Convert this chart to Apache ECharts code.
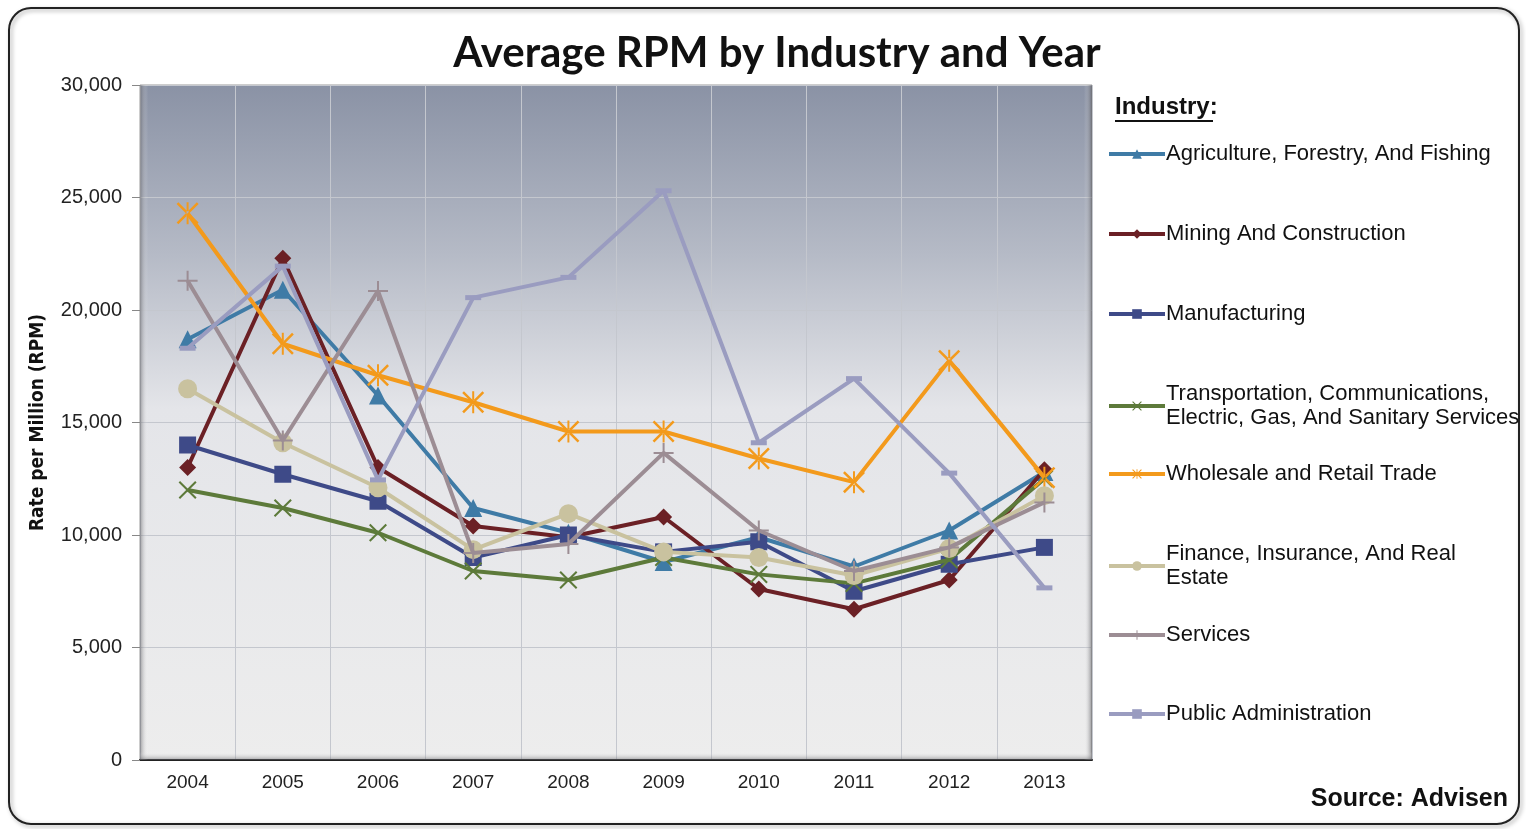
<!DOCTYPE html>
<html>
<head>
<meta charset="utf-8">
<script src="https://cdn.jsdelivr.net/npm/echarts@6/dist/echarts.min.js"></script>
<style>html,body{margin:0;padding:0;background:#fff;}#chart{width:1526px;height:829px;}</style>
</head>
<body>
<div id="chart"></div>
<script>
const years = ['2004','2005','2006','2007','2008','2009','2010','2011','2012','2013'];
const yTicks = [0, 5000, 10000, 15000, 20000, 25000, 30000];

const agriculture    = [18700, 20900, 16200, 11200, 10100, 8800, 9900, 8600, 10200, 12800];
const mining         = [13000, 22300, 13000, 10400, 9900, 10800, 7600, 6700, 8000, 12900];
const manufacturing  = [14000, 12700, 11500, 9000, 10000, 9250, 9700, 7500, 8700, 9450];
const transportation = [12000, 11200, 10100, 8400, 8000, 9000, 8250, 7850, 8900, 12500];
const wholesale      = [24300, 18500, 17100, 15900, 14600, 14600, 13400, 12350, 17750, 12550];
const finance        = [16500, 14100, 12100, 9350, 10950, 9250, 9000, 8200, 9400, 11750];
const services       = [21300, 14200, 20850, 9200, 9600, 13650, 10200, 8400, 9450, 11450];
const publicAdmin    = [18300, 21950, 12450, 20550, 21450, 25300, 14100, 16950, 12750, 7650];

const names = [
  'Agriculture, Forestry, And Fishing',
  'Mining And Construction',
  'Manufacturing',
  'Transportation, Communications,\nElectric, Gas, And Sanitary Services',
  'Wholesale and Retail Trade',
  'Finance, Insurance, And Real\nEstate',
  'Services',
  'Public Administration'
];

const X_PATH = 'path://M0.8,0 L5,4.2 L9.2,0 L10,0.8 L5.8,5 L10,9.2 L9.2,10 L5,5.8 L0.8,10 L0,9.2 L4.2,5 L0,0.8 Z';
const STAR_PATH = 'path://M0.8,0 L5,4.2 L9.2,0 L10,0.8 L5.8,5 L10,9.2 L9.2,10 L5,5.8 L0.8,10 L0,9.2 L4.2,5 L0,0.8 Z M4.55,0 L4.55,10 L5.45,10 L5.45,0 Z';
const PLUS_PATH = 'path://M4.5,0 L5.5,0 L5.5,4.5 L10,4.5 L10,5.5 L5.5,5.5 L5.5,10 L4.5,10 L4.5,5.5 L0,5.5 L0,4.5 L4.5,4.5 Z';

const seriesDefs = [
  {data: agriculture,    color: '#3f7ba6', symbol: 'triangle', size: 18},
  {data: mining,         color: '#6b2025', symbol: 'diamond',  size: 17},
  {data: manufacturing,  color: '#3e4a88', symbol: 'rect',     size: 17},
  {data: transportation, color: '#5d7a3a', symbol: X_PATH,     size: 18},
  {data: wholesale,      color: '#f39a1c', symbol: STAR_PATH,  size: 22},
  {data: finance,        color: '#c9c29f', symbol: 'circle',   size: 19},
  {data: services,       color: '#9c8d94', symbol: PLUS_PATH,  size: 20},
  {data: publicAdmin,    color: '#9a9cc0', symbol: 'rect',     size: [16, 5]}
];

const legendCenters = [149, 229, 309, 401, 469, 561, 630, 709];
const legendHeights = [24, 24, 24, 48, 24, 48, 24, 24];

const FONT = '"Liberation Sans", Arial, sans-serif';

const chart = echarts.init(document.getElementById('chart'));

const series = seriesDefs.map((d, i) => ({
  name: names[i],
  type: 'line',
  data: d.data,
  symbol: d.symbol,
  symbolSize: d.size,
  showSymbol: true,
  lineStyle: {color: d.color, width: 4},
  itemStyle: {color: d.color},
  emphasis: {disabled: true},
  z: 3 + i
}));

const legends = names.map((n, i) => ({
  data: [n],
  orient: 'vertical',
  left: 1102,
  top: legendCenters[i] - legendHeights[i] / 2,
  itemWidth: 56,
  itemHeight: 12,
  itemGap: 0,
  selectedMode: false,
  lineStyle: {width: 4},
  textStyle: {fontFamily: FONT, fontSize: 22, color: '#111', lineHeight: 24, padding: [0, 0, 0, -4]}
}));

chart.setOption({
  backgroundColor: '#fff',
  animation: false,
  title: {
    text: 'Average RPM by Industry and Year',
    left: 772, textAlign: 'center', top: 27,
    textStyle: {fontFamily: 'Lato, "Open Sans", sans-serif', fontWeight: 'bold', fontSize: 42, color: '#111'}
  },
  legend: legends,
  grid: {
    left: 140, right: 434, top: 85, bottom: 69,
    show: true,
    backgroundColor: {
      type: 'linear', x: 0, y: 0, x2: 0, y2: 1,
      colorStops: [
        {offset: 0, color: '#8a92a5'},
        {offset: 0.25, color: '#b5bac6'},
        {offset: 0.48, color: '#e4e5e9'},
        {offset: 1, color: '#ededed'}
      ]
    },
    borderColor: '#9a9a9a',
    borderWidth: 1
  },
  xAxis: {
    type: 'category',
    data: years,
    boundaryGap: true,
    axisLine: {show: true, lineStyle: {color: '#222', width: 2}},
    axisTick: {show: false},
    axisLabel: {fontFamily: FONT, fontSize: 19, color: '#222', margin: 13},
    splitLine: {show: true, lineStyle: {color: '#c4c7ce', width: 1}}
  },
  yAxis: {
    type: 'value',
    min: yTicks[0], max: yTicks[yTicks.length - 1], interval: 5000,
    name: 'Rate per Million (RPM)',
    nameLocation: 'middle',
    nameRotate: 90,
    nameGap: 92,
    nameTextStyle: {fontFamily: '"Liberation Sans Narrow", "DejaVu Sans Condensed", Arial, sans-serif', fontWeight: 'bold', fontSize: 19, color: '#111'},
    axisLine: {show: false},
    axisTick: {show: true, length: 8, lineStyle: {color: '#888'}},
    axisLabel: {
      fontFamily: FONT, fontSize: 20, color: '#222', margin: 18,
      formatter: v => v.toLocaleString('en-US')
    },
    splitLine: {show: true, lineStyle: {color: '#c4c7ce', width: 1}}
  },
  graphic: [
    {type: 'rect', shape: {x: 9, y: 8, width: 1510, height: 816, r: 22}, style: {fill: 'none', stroke: '#222', lineWidth: 2, shadowBlur: 4, shadowColor: 'rgba(0,0,0,0.35)', shadowOffsetX: 2, shadowOffsetY: 2}, z: -10, silent: true},
    {type: 'rect', shape: {x: 140, y: 85, width: 8, height: 675}, style: {fill: {type: 'linear', x: 0, y: 0, x2: 1, y2: 0, colorStops: [{offset: 0, color: 'rgba(90,90,95,0.55)'}, {offset: 1, color: 'rgba(255,255,255,0)'}]}}, z: 1, silent: true},
    {type: 'rect', shape: {x: 1084, y: 85, width: 8, height: 675}, style: {fill: {type: 'linear', x: 0, y: 0, x2: 1, y2: 0, colorStops: [{offset: 0, color: 'rgba(255,255,255,0)'}, {offset: 1, color: 'rgba(80,80,85,0.6)'}]}}, z: 1, silent: true},
    {type: 'rect', shape: {x: 140, y: 752, width: 952, height: 8}, style: {fill: {type: 'linear', x: 0, y: 0, x2: 0, y2: 1, colorStops: [{offset: 0, color: 'rgba(255,255,255,0)'}, {offset: 1, color: 'rgba(90,90,95,0.5)'}]}}, z: 1, silent: true},
    {type: 'text', left: 1115, top: 95, style: {text: 'Industry:', fontFamily: FONT, fontWeight: 'bold', fontSize: 24, fill: '#111'}, silent: true},
    {type: 'line', shape: {x1: 1115, y1: 121, x2: 1213, y2: 121}, style: {stroke: '#111', lineWidth: 2}, silent: true},
    {type: 'text', right: 18, top: 787, style: {text: 'Source: Advisen', fontFamily: FONT, fontWeight: 'bold', fontSize: 25, fill: '#111'}, silent: true}
  ],
  series: series
});
</script>
</body>
</html>
